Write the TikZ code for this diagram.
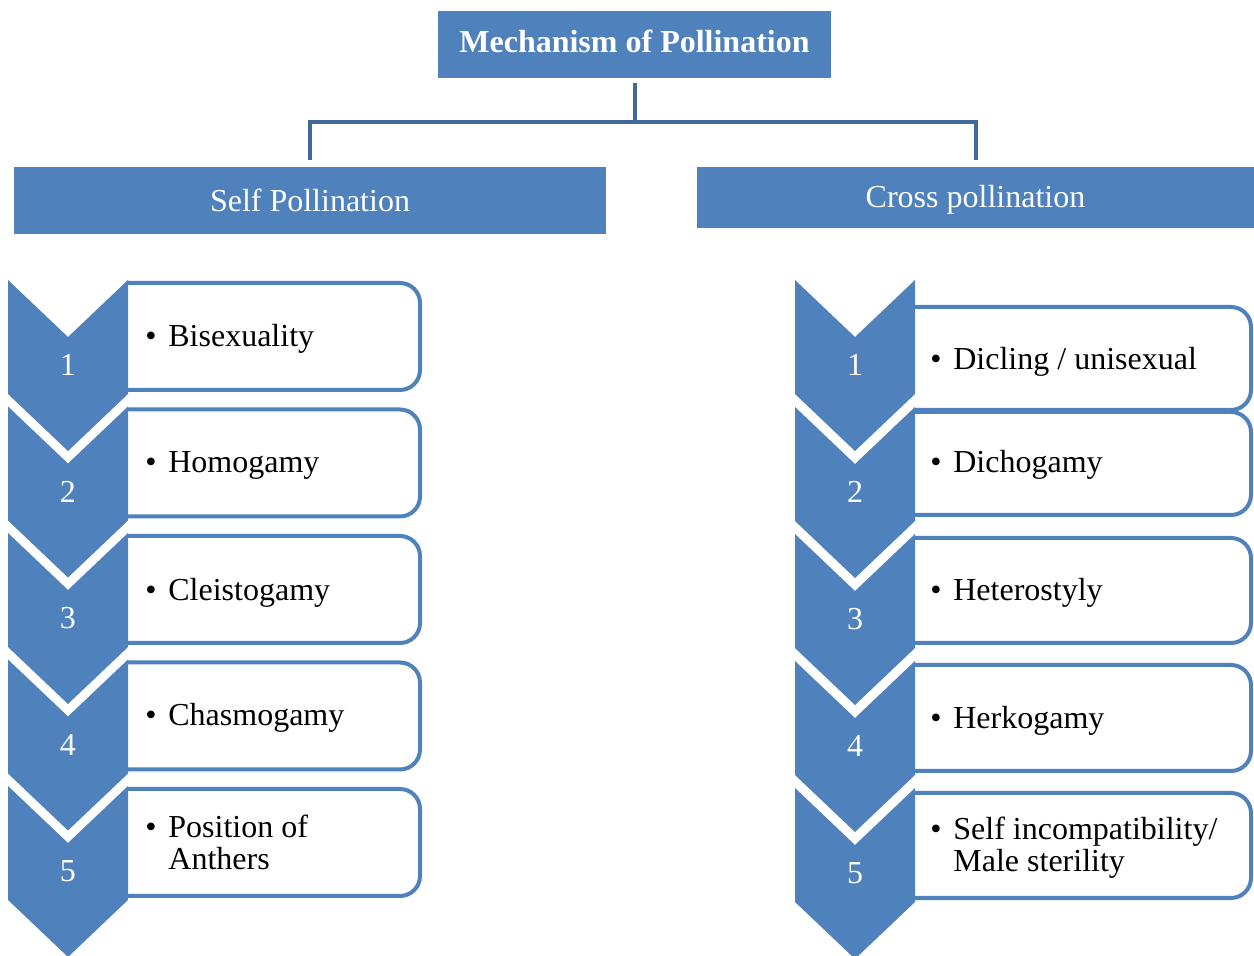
\documentclass[tikz,border=0pt]{standalone}
\usepackage{fontspec}
\setmainfont{Liberation Serif}
\usepackage{xcolor}
\definecolor{chevfill}{RGB}{79,129,189}
\definecolor{boxdraw}{RGB}{79,129,189}
\definecolor{linkdraw}{RGB}{65,104,155}
\usepackage{tikz}
\usetikzlibrary{positioning}
% bullet, with a second line kept under the first word
\newcommand{\itembul}[1]{\makebox[11.5pt][l]{\textbullet}\begin{tabular}[t]{@{}l@{}}#1\end{tabular}}

\begin{document}
\begin{tikzpicture}[
  x=0.5pt, y=-0.5pt,
  every node/.style={inner sep=0pt, font=\fontsize{16}{16}\selectfont},
  headbox/.style ={rectangle, fill=chevfill, text=white, minimum height=33.5pt},
  numtext/.style ={text=white},
  itemtext/.style={anchor=base west},
  chevron/.style ={fill=chevfill},
  chevpath/.style={insert path={-- ++(60,57) -- ++(60,-57) -- ++(0,114) -- ++(-60,57) -- ++(-60,-57) -- cycle}},
  itembox/.style ={draw=boxdraw, fill=white, line width=2pt, rounded corners=10pt},
  link/.style    ={draw=linkdraw, line width=2pt}
]
\useasboundingbox (0,0) rectangle (1254,956);

\node[headbox, minimum width=196.5pt, text height=8.6pt, font=\fontsize{16}{16}\selectfont\bfseries] (mech) at (634.5,44.5) {Mechanism of Pollination};
\node[headbox, minimum width=296pt] (self) at (310,200.5) {Self Pollination};
\node[headbox, minimum width=278.5pt, minimum height=30.5pt, text depth=1pt] (cross) at (975.5,197.5) {Cross pollination};

\coordinate (bus) at (634.5,122);
\draw[link] ([yshift=-2.5pt]mech.south) -- (bus);
\draw[link] ([yshift=3.5pt]self.north) |- (bus) -| ([yshift=3.5pt]cross.north);

% text boxes, open on the side hidden by the chevrons
\filldraw[itembox] (128,283)   -| (420,390)   -- (128,390);
\filldraw[itembox] (128,409.5) -| (420,516.5) -- (128,516.5);
\filldraw[itembox] (128,536)   -| (420,643)   -- (128,643);
\filldraw[itembox] (128,662.5) -| (420,769.5) -- (128,769.5);
\filldraw[itembox] (128,789)   -| (420,896)   -- (128,896);

\filldraw[itembox] (915,307) -| (1251,410) -- (915,410);
\filldraw[itembox] (915,412) -| (1251,515) -- (915,515);
\filldraw[itembox] (915,538) -| (1251,643) -- (915,643);
\filldraw[itembox] (915,665) -| (1251,771) -- (915,771);
\filldraw[itembox] (915,793) -| (1251,898) -- (915,898);

% chevrons
\fill[chevron] (8,280)   [chevpath];
\fill[chevron] (8,406.5) [chevpath];
\fill[chevron] (8,533)   [chevpath];
\fill[chevron] (8,659.5) [chevpath];
\fill[chevron] (8,786)   [chevpath];

\fill[chevron] (795,280) [chevpath];
\fill[chevron] (795,407) [chevpath];
\fill[chevron] (795,534) [chevpath];
\fill[chevron] (795,661) [chevpath];
\fill[chevron] (795,788) [chevpath];

\node[numtext] (sn1) at (68,365)   {1};
\node[numtext] (sn2) at (68,491.5) {2};
\node[numtext] (sn3) at (68,618)   {3};
\node[numtext] (sn4) at (68,744.5) {4};
\node[numtext] (sn5) at (68,871)   {5};

\node[numtext] (cn1) at (855,365) {1};
\node[numtext] (cn2) at (855,492) {2};
\node[numtext] (cn3) at (855,619) {3};
\node[numtext] (cn4) at (855,746) {4};
\node[numtext] (cn5) at (855,873) {5};

\node[itemtext] (bisex)  at (145,347) {\itembul{Bisexuality}};
\node[itemtext] (homo)   at (145,473) {\itembul{Homogamy}};
\node[itemtext] (cleist) at (145,601) {\itembul{Cleistogamy}};
\node[itemtext] (chasm)  at (145,726) {\itembul{Chasmogamy}};
\node[itemtext] (anth)   at (145,838) {\itembul{Position of\\Anthers}};

\node[itemtext] (dicl)   at (930,370) {\itembul{Dicling / unisexual}};
\node[itemtext] (dicho)  at (930,473) {\itembul{Dichogamy}};
\node[itemtext] (hetero) at (930,601) {\itembul{Heterostyly}};
\node[itemtext] (herko)  at (930,729) {\itembul{Herkogamy}};
\node[itemtext] (incomp) at (930,840) {\itembul{Self incompatibility/\\Male sterility}};

\end{tikzpicture}
\end{document}
